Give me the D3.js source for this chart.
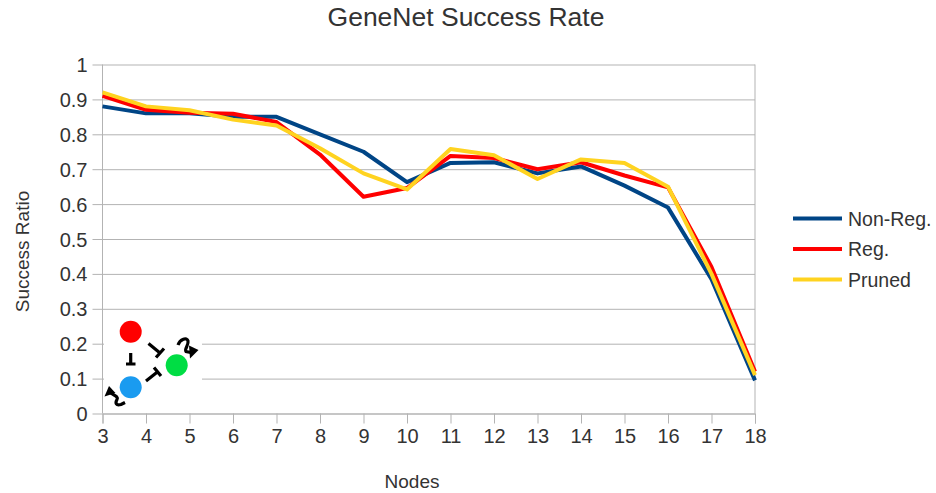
<!DOCTYPE html>
<html>
<head>
<meta charset="utf-8">
<script src="https://cdn.jsdelivr.net/npm/d3@7"></script>
<style>
  html, body { margin: 0; padding: 0; background: #fff; }
  svg { display: block; font-family: "Liberation Sans", Arial, sans-serif; }
</style>
</head>
<body>
<div id="chart"></div>
<script>
// node counts on the x axis
const nodes = [3, 4, 5, 6, 7, 8, 9, 10, 11, 12, 13, 14, 15, 16, 17, 18];
const nonReg = [0.88, 0.86, 0.86, 0.85, 0.85, 0.80, 0.75, 0.663, 0.718, 0.72, 0.688, 0.708, 0.653, 0.59, 0.385, 0.095];
const reg    = [0.91, 0.87, 0.862, 0.859, 0.835, 0.742, 0.621, 0.646, 0.738, 0.732, 0.70, 0.72, 0.682, 0.648, 0.42, 0.12];
const pruned = [0.92, 0.88, 0.869, 0.842, 0.825, 0.76, 0.688, 0.642, 0.758, 0.74, 0.672, 0.728, 0.718, 0.65, 0.40, 0.11];
const seriesNames = ["Non-Reg.", "Reg.", "Pruned"];
const seriesColors = ["#004586", "#ff0000", "#ffd320"];
const yTicks = [0, 0.1, 0.2, 0.3, 0.4, 0.5, 0.6, 0.7, 0.8, 0.9, 1];

const W = 936, H = 493;
const M = { top: 64.5, right: 181, bottom: 79.5, left: 102.5 };

const svg = d3.select("#chart").append("svg").attr("width", W).attr("height", H);

const x = d3.scaleLinear().domain([3, 18]).range([M.left, W - M.right]);
const y = d3.scaleLinear().domain([0, 1]).range([H - M.bottom, M.top]);

// horizontal gridlines + outer tick stubs
svg.append("g").attr("transform", `translate(${M.left},0)`)
  .call(d3.axisLeft(y).tickValues(yTicks).tickSize(-(W - M.right - M.left)).tickPadding(15)
    .tickFormat((d) => d3.format("~g")(d)))
  .call((g) => g.select(".domain").remove())
  .call((g) => g.selectAll("line").attr("stroke", "#b3b3b3").attr("x1", -10))
  .call((g) => g.selectAll("text").attr("fill", "#333").style("font-size", "20px").attr("dy", "0.35em"));

// left axis line and right edge
svg.append("line").attr("x1", M.left).attr("x2", M.left).attr("y1", M.top).attr("y2", y(0))
  .attr("stroke", "#b3b3b3");
svg.append("line").attr("x1", x(18)).attr("x2", x(18)).attr("y1", M.top).attr("y2", y(0))
  .attr("stroke", "#b3b3b3");

// x axis
svg.append("g").attr("transform", `translate(0,${y(0)})`)
  .call(d3.axisBottom(x).tickValues(nodes).tickSize(10).tickPadding(5).tickFormat(d3.format("d")))
  .call((g) => g.select(".domain").attr("stroke", "#b3b3b3"))
  .call((g) => g.selectAll("line").attr("stroke", "#b3b3b3"))
  .call((g) => g.selectAll("text").attr("fill", "#333").style("font-size", "20px"));

// inset network sketch (white backdrop hides gridlines)
const inset = svg.append("g");
inset.append("rect").attr("x", 104).attr("y", 313).attr("width", 98).attr("height", 97).attr("fill", "#fff");
const ink = { stroke: "#000", "stroke-width": 3.2, fill: "none", "stroke-linecap": "butt" };
function path(d) { const p = inset.append("path").attr("d", d); Object.entries(ink).forEach(([k, v]) => p.attr(k, v)); return p; }
// inhibitory edges (T ends)
path("M130.7,353 L130.7,364 M126,364 L135.5,364");
path("M148.5,343.5 L160,353 M156,357.5 L164,348.5");
path("M146,381 L158,371.5 M154,367.5 L161,376");
// self-activation squiggles
path("M178,345 C180,339 187,337 188,341 C189,345 184,349 186,351.5 L191,352.5");
inset.append("path").attr("d", "M189,345.5 L198.5,350 L190,358.5 Z").attr("fill", "#000");
path("M110,392 C112,395 119,396 117,399.5 C115,403 116,406 121,404.5 L125,402.5");
inset.append("path").attr("d", "M104.5,396.5 L109,386 L115.5,393 Z").attr("fill", "#000");

const nodesDraw = [
  { cx: 130.7, cy: 331.7, c: "#ff0000" },
  { cx: 130.7, cy: 387.3, c: "#1a9bf0" },
  { cx: 176.7, cy: 365.2, c: "#00dd44" }
];
inset.selectAll("circle").data(nodesDraw).join("circle")
  .attr("cx", (d) => d.cx).attr("cy", (d) => d.cy).attr("r", 11).attr("fill", (d) => d.c);

// series lines
const allSeries = [nonReg, reg, pruned];
const line = d3.line().x((d, i) => x(nodes[i])).y((d) => y(d));
svg.append("g").selectAll("path").data(allSeries).join("path")
  .attr("d", line).attr("fill", "none")
  .attr("stroke", (d, i) => seriesColors[i]).attr("stroke-width", 4)
  .attr("stroke-linejoin", "round");

// title + axis titles
svg.append("text").attr("x", 466).attr("y", 26).attr("text-anchor", "middle")
  .attr("fill", "#333").style("font-size", "26.5px").text("GeneNet Success Rate");
svg.append("text").attr("x", 412).attr("y", 488).attr("text-anchor", "middle")
  .attr("fill", "#333").style("font-size", "19px").text("Nodes");
svg.append("text").attr("transform", "translate(28.5,251.5) rotate(-90)").attr("text-anchor", "middle")
  .attr("fill", "#333").style("font-size", "19px").text("Success Ratio");

// legend
const lg = svg.append("g").selectAll("g").data(seriesNames).join("g")
  .attr("transform", (d, i) => `translate(793,${218.5 + i * 30.5})`);
lg.append("line").attr("x1", 0).attr("x2", 49).attr("stroke", (d, i) => seriesColors[i]).attr("stroke-width", 4);
lg.append("text").attr("x", 55).attr("dy", "0.36em").attr("fill", "#333").style("font-size", "19.5px").text((d) => d);
</script>
</body>
</html>
